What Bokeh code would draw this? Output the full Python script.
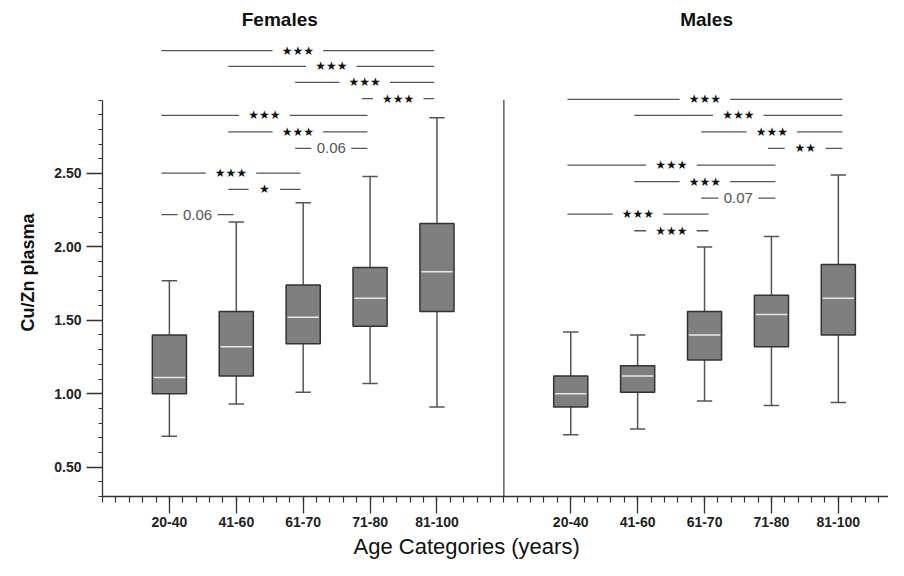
import math
from bokeh.plotting import figure
from bokeh.models import FixedTicker, NumeralTickFormatter, Label, Title
from bokeh.core.properties import value
from bokeh.embed import file_html
from bokeh.resources import INLINE

# ---------------- data ----------------
age_groups = ["20-40", "41-60", "61-70", "71-80", "81-100"]

fem_low = [0.71, 0.93, 1.01, 1.07, 0.91]
fem_q1 = [1.00, 1.12, 1.34, 1.46, 1.56]
fem_med = [1.11, 1.32, 1.52, 1.65, 1.83]
fem_q3 = [1.40, 1.56, 1.74, 1.86, 2.16]
fem_high = [1.77, 2.17, 2.30, 2.48, 2.88]

male_low = [0.72, 0.76, 0.95, 0.92, 0.94]
male_q1 = [0.91, 1.01, 1.23, 1.32, 1.40]
male_med = [1.00, 1.12, 1.40, 1.54, 1.65]
male_q3 = [1.12, 1.19, 1.56, 1.67, 1.88]
male_high = [1.42, 1.40, 2.00, 2.07, 2.49]

fem_comparisons = [
    ("20-40", "81-100", "***"),
    ("41-60", "81-100", "***"),
    ("61-70", "81-100", "***"),
    ("71-80", "81-100", "***"),
    ("20-40", "71-80", "***"),
    ("41-60", "71-80", "***"),
    ("61-70", "71-80", "0.06"),
    ("20-40", "61-70", "***"),
    ("41-60", "61-70", "*"),
    ("20-40", "41-60", "0.06"),
]
male_comparisons = [
    ("20-40", "81-100", "***"),
    ("41-60", "81-100", "***"),
    ("61-70", "81-100", "***"),
    ("71-80", "81-100", "**"),
    ("20-40", "71-80", "***"),
    ("41-60", "71-80", "***"),
    ("61-70", "71-80", "0.07"),
    ("20-40", "61-70", "***"),
    ("41-60", "61-70", "***"),
]

y_ticks = [0.5, 1.0, 1.5, 2.0, 2.5]

# ---------------- layout ----------------
fem_levels = [3.337, 3.229, 3.12, 3.01, 2.896, 2.783, 2.671, 2.503, 2.391, 2.22]
male_levels = [3.005, 2.896, 2.783, 2.671, 2.557, 2.445, 2.332, 2.223, 2.11]

W, H = 888, 560
BL, BB = 102, 58
X0, X1 = 0, 11.75
Y0, Y1 = 0.3, 3.678
px_x = (W - BL) / (X1 - X0)

p = figure(width=W, height=H, x_range=(X0, X1), y_range=(Y0, Y1),
           output_backend="svg", toolbar_location=None,
           min_border_left=BL, min_border_right=0, min_border_top=0,
           min_border_bottom=BB)
p.xgrid.visible = False
p.ygrid.visible = False
p.outline_line_color = None
p.background_fill_color = "white"
p.border_fill_color = "white"

AXC = "#333333"
fem_x = [i + 1 for i in range(len(age_groups))]
male_x = [i + 7 for i in range(len(age_groups))]
overrides = {}
for xv, g in zip(fem_x, age_groups):
    overrides[xv] = g
for xv, g in zip(male_x, age_groups):
    overrides[xv] = g
p.xaxis.ticker = FixedTicker(ticks=fem_x + male_x,
                             minor_ticks=[round(0.2 * k, 2) for k in range(0, 61)])
p.xaxis.major_label_overrides = overrides
p.xaxis.major_tick_out = 17
p.xaxis.major_tick_in = 0
p.xaxis.minor_tick_out = 6
p.xaxis.minor_tick_in = 0
p.xaxis.major_label_standoff = 3

p.yaxis.ticker = FixedTicker(ticks=y_ticks,
                             minor_ticks=[round(0.3 + 0.1 * k, 2) for k in range(0, 28)])
p.yaxis.formatter = NumeralTickFormatter(format="0.00")
p.yaxis.bounds = (0.3, 3.0)
p.yaxis.major_tick_out = 16
p.yaxis.major_tick_in = 0
p.yaxis.minor_tick_out = 4
p.yaxis.minor_tick_in = 0
p.yaxis.major_label_standoff = 5
for ax in (p.xaxis, p.yaxis):
    ax.axis_line_color = AXC
    ax.axis_line_width = 1.3
    ax.major_tick_line_color = AXC
    ax.major_tick_line_width = 1.3
    ax.minor_tick_line_color = AXC
    ax.minor_tick_line_width = 1.2
    ax.major_label_text_font = "Liberation Sans"
    ax.major_label_text_font_style = "bold"
    ax.major_label_text_font_size = "14px"
    ax.major_label_text_color = "#222222"

# axis titles
p.add_layout(Title(text="Age Categories (years)", align="left", offset=251,
                   text_font="Liberation Sans", text_font_style="normal",
                   text_font_size="22px", text_color="#111111", standoff=4), "below")
p.add_layout(Title(text="Cu/Zn plasma", align="left", offset=165,
                   text_font="Liberation Sans", text_font_style="bold",
                   text_font_size="18px", text_color="#111111", standoff=28), "left")

# divider between panels
p.segment(x0=[6], y0=[0.3], x1=[6], y1=[3.0], line_color="#444444", line_width=1.3)

BOX_W = 0.51
CAP = 0.115


def draw_boxes(xs, low, q1, med, q3, high):
    p.segment(x0=xs, y0=q3, x1=xs, y1=high, line_color="#555555", line_width=1.5)
    p.segment(x0=xs, y0=q1, x1=xs, y1=low, line_color="#555555", line_width=1.5)
    p.segment(x0=[x - CAP for x in xs], y0=high, x1=[x + CAP for x in xs], y1=high,
              line_color="#555555", line_width=1.5)
    p.segment(x0=[x - CAP for x in xs], y0=low, x1=[x + CAP for x in xs], y1=low,
              line_color="#555555", line_width=1.5)
    p.vbar(x=xs, width=BOX_W, top=q3, bottom=q1, fill_color="#7f7f7f",
           line_color="#333333", line_width=1.5)
    p.segment(x0=[x - BOX_W / 2 + 0.02 for x in xs], y0=med,
              x1=[x + BOX_W / 2 - 0.02 for x in xs], y1=med,
              line_color="#e8e8e8", line_width=1.5)


draw_boxes(fem_x, fem_low, fem_q1, fem_med, fem_q3, fem_high)
draw_boxes(male_x, male_low, male_q1, male_med, male_q3, male_high)


def draw_comparisons(xs, comps, levels, start_off, end_off):
    pos = {g: x for g, x in zip(age_groups, xs)}
    sx0, sx1, sy = [], [], []
    star_x, star_y, star_t = [], [], []
    num_x, num_y, num_t = [], [], []
    for (a, b, lab), lv in zip(comps, levels):
        xa = pos[a] + start_off
        xb = pos[b] + end_off
        xm = (xa + xb) / 2
        if lab.startswith("*"):
            tw = 9.5 * len(lab) + 22
            star_x.append(xm); star_y.append(lv); star_t.append("\u2605" * len(lab))
        else:
            tw = 30 + 10
            num_x.append(xm); num_y.append(lv); num_t.append(lab)
        half = tw / 2 / px_x
        sx0 += [xa, xm + half]
        sx1 += [xm - half, xb]
        sy += [lv, lv]
    p.segment(x0=sx0, y0=sy, x1=sx1, y1=sy, line_color="#555555", line_width=1.3)
    p.text(x=star_x, y=star_y, text=star_t, text_font=value("DejaVu Sans"),
           text_font_size="12px", text_color="#111111", text_align="center",
           text_baseline="middle")
    p.text(x=num_x, y=num_y, text=num_t, text_font=value("Liberation Sans"),
           text_font_size="15px", text_color="#555555", text_align="center",
           text_baseline="middle")


draw_comparisons(fem_x, fem_comparisons, fem_levels, -0.12, -0.04)
draw_comparisons(male_x, male_comparisons, male_levels, -0.05, 0.06)

# panel titles
p.add_layout(Label(x=2.65, y=3.55, text="Females", text_font="Liberation Sans",
                   text_font_style="bold", text_font_size="19px", text_color="#111111",
                   text_align="center", text_baseline="middle"))
p.add_layout(Label(x=9.03, y=3.55, text="Males", text_font="Liberation Sans",
                   text_font_style="bold", text_font_size="19px", text_color="#111111",
                   text_align="center", text_baseline="middle"))

open("out.html", "w").write(file_html(p, INLINE))
